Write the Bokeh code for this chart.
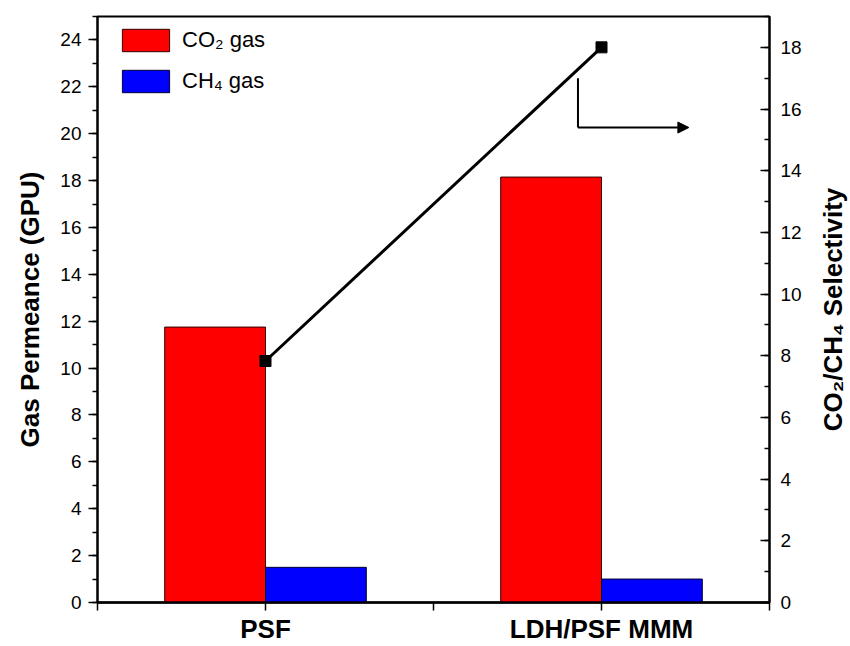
import math
from bokeh.plotting import figure
from bokeh.layouts import row
from bokeh.core.properties import value
from bokeh.models import (Range1d, LinearAxis, FixedTicker, SingleIntervalTicker,
                          Legend, LegendItem, Arrow, NormalHead)
from bokeh.embed import file_html
from bokeh.resources import INLINE

# ---- data ----
categories = ["PSF", "LDH/PSF MMM"]
co2_permeance = [11.75, 18.15]
ch4_permeance = [1.5, 1.0]
selectivity = [7.83, 18.0]
right_title = "CO\u2082/CH\u2084 Selectivity"

xpos = [i + 1 for i in range(len(categories))]
bar_w = 0.3
FONT = "Liberation Sans"
SIDE_W = 36

p = figure(width=850 - SIDE_W, height=646, output_backend="svg", toolbar_location=None,
           x_range=Range1d(0.5, 2.5), y_range=Range1d(0, 25),
           min_border_left=97, min_border_right=81 - SIDE_W, min_border_top=16,
           min_border_bottom=40)
p.extra_y_ranges = {"sel": Range1d(0, 19)}
p.xgrid.visible = False
p.ygrid.visible = False
p.outline_line_color = "black"
p.outline_line_width = 2
p.background_fill_color = "white"
p.border_fill_color = "white"

co2_r = p.vbar(x=[x - bar_w / 2 for x in xpos], top=co2_permeance, width=bar_w,
               fill_color="#ff0000", line_color="#300000", line_width=1)
ch4_r = p.vbar(x=[x + bar_w / 2 for x in xpos], top=ch4_permeance, width=bar_w,
               fill_color="#0000ff", line_color="#000030", line_width=1)

p.line(xpos, selectivity, y_range_name="sel", line_color="black", line_width=3)
p.scatter(xpos, selectivity, y_range_name="sel", marker="square", size=11,
          fill_color="black", line_color="black")

# arrow annotation pointing to the right axis
p.add_layout(Arrow(x_start=1.93, y_start=17.0, x_end=1.93, y_end=15.4,
                   y_range_name="sel", end=None, line_color="black", line_width=2))
p.add_layout(Arrow(x_start=1.93, y_start=15.4, x_end=2.26, y_end=15.4,
                   y_range_name="sel", line_color="black", line_width=2,
                   end=NormalHead(size=11, fill_color="black", line_color="black")))


def style_axis(ax):
    ax.axis_line_color = "black"
    ax.major_tick_line_color = "black"
    ax.minor_tick_line_color = "black"
    ax.major_label_text_color = "black"
    ax.axis_label_text_color = "black"
    ax.major_tick_line_width = 1.5
    ax.minor_tick_line_width = 1.5


# x axis
xa = p.xaxis[0]
style_axis(xa)
xa.ticker = FixedTicker(ticks=xpos, minor_ticks=[0.5, 1.5, 2.5])
xa.major_label_overrides = {x: c for x, c in zip(xpos, categories)}
xa.major_label_text_font = FONT
xa.major_label_text_font_style = "bold"
xa.major_label_text_font_size = "26px"
xa.major_label_standoff = 3
xa.major_tick_in = 0
xa.major_tick_out = 8
xa.minor_tick_in = 0
xa.minor_tick_out = 8
xa.axis_line_width = 2.5

# left axis
ya = p.yaxis[0]
style_axis(ya)
ya.ticker = SingleIntervalTicker(interval=2, num_minor_ticks=2)
ya.axis_label = "Gas Permeance (GPU)"
ya.axis_label_text_font = FONT
ya.axis_label_text_font_style = "bold"
ya.axis_label_text_font_size = "26px"
ya.axis_label_standoff = 12
ya.major_label_text_font = FONT
ya.major_label_text_font_size = "19px"
ya.major_label_standoff = 7
ya.major_tick_in = 0
ya.major_tick_out = 9
ya.minor_tick_in = 0
ya.minor_tick_out = 5
ya.axis_line_width = 2

# right axis
ra = LinearAxis(y_range_name="sel",
                ticker=SingleIntervalTicker(interval=2, num_minor_ticks=2))
style_axis(ra)
ra.major_label_text_font = FONT
ra.major_label_text_font_size = "19px"
ra.major_label_standoff = 11
ra.major_tick_in = 9
ra.major_tick_out = 0
ra.minor_tick_in = 5
ra.minor_tick_out = 0
ra.axis_line_width = 2
p.add_layout(ra, "right")

legend = Legend(items=[LegendItem(label="CO\u2082 gas", renderers=[co2_r]),
                       LegendItem(label="CH\u2084 gas", renderers=[ch4_r])],
                location=(19, 507), margin=0, padding=0, spacing=13,
                glyph_width=59, glyph_height=28, label_standoff=7,
                label_text_font=FONT, label_text_font_size="22px",
                label_text_color="black",
                border_line_color=None, background_fill_alpha=0)
p.add_layout(legend)

# narrow strip on the right holding the right axis title (bottom-to-top)
side = figure(width=SIDE_W, height=646, output_backend="svg", toolbar_location=None,
              x_range=Range1d(0, 1), y_range=Range1d(0, 1),
              x_axis_location=None, y_axis_location=None,
              min_border_left=0, min_border_right=0, min_border_top=16,
              min_border_bottom=44)
side.outline_line_color = None
side.xgrid.visible = False
side.ygrid.visible = False
side.background_fill_color = "white"
side.border_fill_color = "white"
side.text(x=[0.5], y=[0.5], text=[right_title], angle=math.pi / 2,
          text_align="center", text_baseline="middle",
          text_font=value(FONT), text_font_style="bold", text_font_size="26px",
          text_color="black")

layout = row(p, side, spacing=0)
open("out.html", "w").write(file_html(layout, INLINE))
